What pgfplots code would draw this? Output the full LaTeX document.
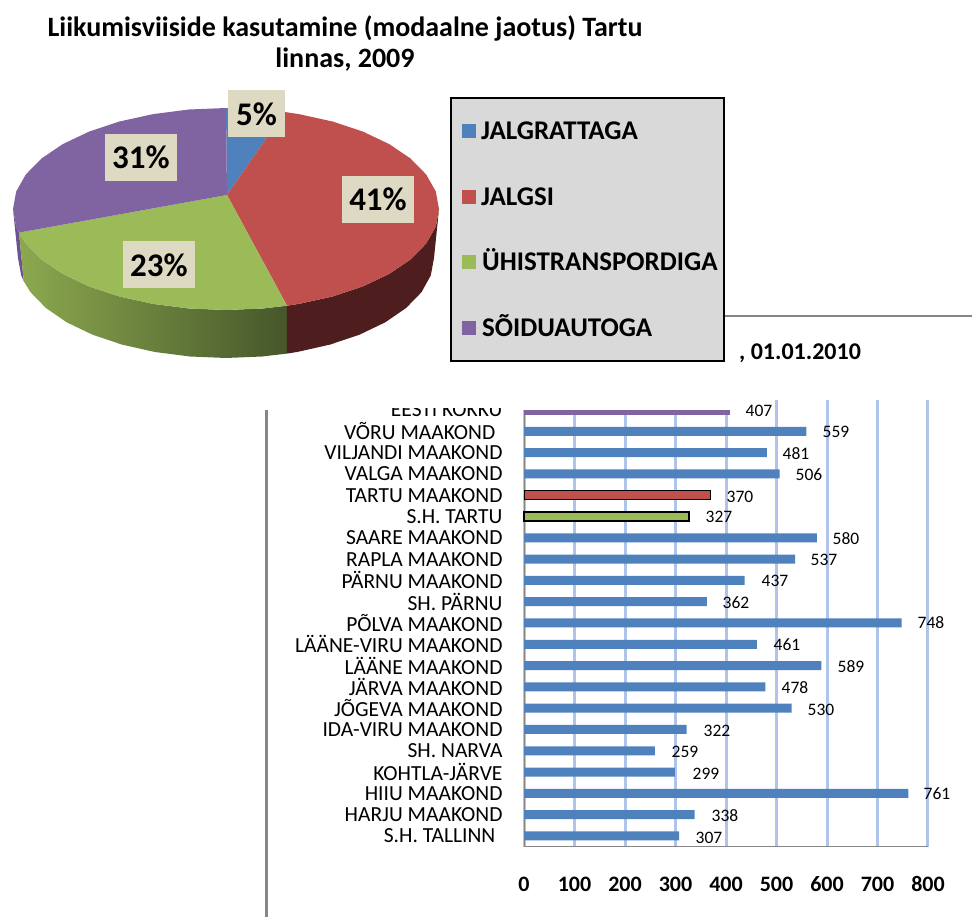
\documentclass[border=0pt]{standalone}
\usepackage{pgfplots}
\usepackage{fontspec}
\setmainfont{Carlito}
\pgfplotsset{compat=1.18}
\definecolor{cblue}{HTML}{4F81BD}
\definecolor{cred}{HTML}{C0504D}
\definecolor{cgreen}{HTML}{9BBB59}
\definecolor{cpurple}{HTML}{8064A2}
\definecolor{lblbox}{HTML}{DDD9C3}
\definecolor{rulegrey}{HTML}{868686}
\definecolor{gridblue}{HTML}{AEC4EA}
\definecolor{greenL}{HTML}{8CA94F}
\definecolor{greenD}{HTML}{46562A}
\definecolor{redD}{HTML}{4D1E1D}
\definecolor{purpleD}{HTML}{6C5490}
\newcommand{\fs}[1]{\fontsize{#1}{#1}\selectfont}

\begin{document}
\begin{tikzpicture}[x=1pt,y=1pt]
\path[use as bounding box] (0,0) rectangle (972,917);

% bar chart
\begin{axis}[
    at={(524pt,70.35pt)}, anchor=south west,
    scale only axis,
    width=404pt, height=446.65pt,
    xmin=0, xmax=800,
    ymin=-0.5, ymax=20.47,
    xbar, bar width=9pt, bar shift=0pt,
    axis x line*=bottom, axis y line*=left,
    axis line style={rulegrey,line width=1pt,-},
    major tick length=0pt,
    xtick={0,100,...,800},
    xmajorgrids,
    grid style={gridblue,line width=3pt},
    /pgf/number format/assume math mode=true,
    xticklabel style={font=\fs{22}\bfseries, text height=15pt, text depth=0pt, yshift=-26pt},
    ytick={0,...,20},
    yticklabels={S.H. TALLINN\,\,,HARJU MAAKOND,HIIU MAAKOND,KOHTLA-JÄRVE,SH. NARVA,IDA-VIRU MAAKOND,JÕGEVA MAAKOND,JÄRVA MAAKOND,LÄÄNE MAAKOND,LÄÄNE-VIRU MAAKOND,PÕLVA MAAKOND,SH. PÄRNU,PÄRNU MAAKOND,RAPLA MAAKOND,SAARE MAAKOND,S.H. TARTU,TARTU MAAKOND,VALGA MAAKOND,VILJANDI MAAKOND,VÕRU MAAKOND\,\,,EESTI KOKKU},
    yticklabel style={font=\fs{21.5}, xshift=-18pt},
    clip=false,
]
\addplot[fill=cblue,draw=none] coordinates {
 (307,0) (338,1) (761,2) (299,3) (259,4) (322,5) (530,6) (478,7) (589,8) (461,9)
 (748,10) (362,11) (437,12) (537,13) (580,14) (506,17) (481,18) (559,19)
};
\addplot[fill=cgreen,draw=black,line width=1.5pt] coordinates {(327,15)};
\addplot[fill=cred,draw=black,line width=1pt] coordinates {(370,16)};
\addplot[fill=cpurple,draw=none] coordinates {(407,20)};
\end{axis}

% everything else in picture pixels
\begin{axis}[
    at={(0pt,0pt)}, anchor=south west,
    scale only axis, hide axis,
    width=972pt, height=917pt,
    xmin=0, xmax=972, ymin=0, ymax=917, y dir=reverse,
    clip=false,
]
% value labels
\addplot[only marks,mark=none,
    nodes near coords,point meta=explicit symbolic,
    every node near coord/.style={font=\fs{17.5},anchor=center,inner sep=0pt}]
  table[meta=v] {
 x y v
 709 838 307
 725 816 338
 937 794 761
 706 774 299
 685 752 259
 717 731 322
 821 710 530
 795 688 478
 851 667 589
 787 645 461
 931 623 748
 736 603 362
 775 581 437
 824 560 537
 846 539 580
 719 517 327
 740 497 370
 809 475 506
 796 454 481
 836 432 559
 759 411 407
};

% pie, side walls
\addplot[fill=purpleD,draw=none] coordinates {
 (19,232.6) (16.2,226.5) (13,209) (18,258) (21.2,275.4) (23.8,281.3)} --cycle;
\addplot[left color=greenL,right color=greenD,draw=none] coordinates {
 (287,305.7) (263,308.5) (226,310) (189,308.5) (153.2,303.9) (119.5,296.5)
 (89.1,286.4) (62.8,273.9) (41.5,259.5) (25.8,243.5) (19,232.6)
 (23.8,281.3) (30.5,292.2) (45.9,308) (66.7,322.3) (92.3,334.6) (122,344.6)
 (154.9,352) (189.9,356.5) (226,358) (262.1,356.5) (286.8,353.6)} --cycle;
\addplot[fill=redD,draw=none] coordinates {
 (287,305.7) (298.8,303.9) (332.5,296.5) (362.9,286.4) (389.2,273.9) (410.5,259.5)
 (426.2,243.5) (435.8,226.5) (439,209)
 (434,258) (430.8,275.4) (421.5,292.2) (406.1,308) (385.3,322.3) (359.7,334.6)
 (330,344.6) (297.1,352) (286.8,353.6)} --cycle;

% pie, top
\addplot[fill=cblue,draw=none] coordinates {
 (227,195) (226,108) (263,109.5) (284.7,112)} --cycle;
\addplot[fill=cred,draw=none] coordinates {
 (227,195) (284.7,112) (298.8,114.1) (332.5,121.5) (362.9,131.6) (389.2,144.1)
 (410.5,158.5) (426.2,174.5) (435.8,191.5) (439,209) (435.8,226.5) (426.2,243.5)
 (410.5,259.5) (389.2,273.9) (362.9,286.4) (332.5,296.5) (298.8,303.9) (287,305.7)} --cycle;
\addplot[fill=cgreen,draw=none] coordinates {
 (227,195) (287,305.7) (263,308.5) (226,310) (189,308.5) (153.2,303.9) (119.5,296.5)
 (89.1,286.4) (62.8,273.9) (41.5,259.5) (25.8,243.5) (19,232.6)} --cycle;
\addplot[fill=cpurple,draw=none] coordinates {
 (227,195) (19,232.6) (16.2,226.5) (13,209) (16.2,191.5) (25.8,174.5) (41.5,158.5)
 (62.8,144.1) (89.1,131.6) (119.5,121.5) (153.2,114.1) (189,109.5) (226,108)} --cycle;
\end{axis}

% cover over the top of the bar chart
\fill[white] (270,917-408) rectangle (523,917-385);
\fill[white] (523,917-410) rectangle (737,917-385);

% pie labels
\tikzset{pl/.style={fill=lblbox,inner sep=0pt,minimum width=72pt,minimum height=47pt,font=\fs{33}\bfseries}}
\node[pl,minimum width=57pt] at (256.5,917-114) {5\%};
\node[pl] at (378,917-199.5) {41\%};
\node[pl] at (159,917-265) {23\%};
\node[pl] at (141,917-157.5) {31\%};

% title
\node[font=\fs{28}\bfseries,inner sep=0pt] at (345,917-28) {Liikumisviiside kasutamine (modaalne jaotus) Tartu};
\node[font=\fs{28}\bfseries,inner sep=0pt] at (345,917-60) {linnas, 2009};

% rules and fragment of hidden title
\draw[rulegrey,line width=2pt] (724,917-316) -- (972,917-316);
\draw[rulegrey,line width=3pt] (266,917-410) -- (266,0);
\node[font=\fs{24}\bfseries,inner sep=0pt,anchor=base west] at (739,917-360) {, 01.01.2010};

% legend
\draw[black,fill=black!15,line width=2pt] (451,917-98) rectangle (724,917-361);
\fill[cblue] (462,917-138) rectangle (476,917-124);
\fill[cred] (462,917-204) rectangle (476,917-190);
\fill[cgreen] (462,917-269) rectangle (476,917-255);
\fill[cpurple] (462,917-335) rectangle (476,917-321);
\tikzset{lt/.style={font=\fs{27}\bfseries,inner sep=0pt,anchor=base west}}
\node[lt] at (481,917-140) {JALGRATTAGA};
\node[lt] at (481,917-206) {JALGSI};
\node[lt] at (482,917-271) {ÜHISTRANSPORDIGA};
\node[lt] at (482,917-337) {SÕIDUAUTOGA};
\end{tikzpicture}
\end{document}
